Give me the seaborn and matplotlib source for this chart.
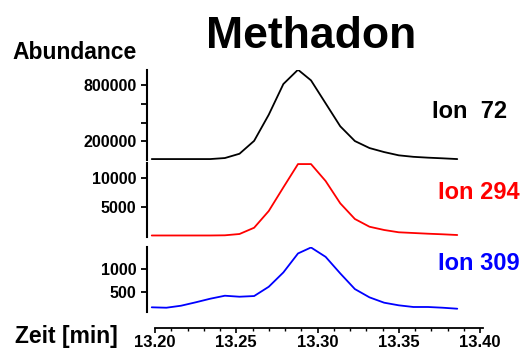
import matplotlib
matplotlib.use("Agg")
import matplotlib.pyplot as plt
from matplotlib.ticker import MultipleLocator, FixedLocator
import seaborn as sns
import pandas as pd

# ---- data ----
times = [13.198, 13.207, 13.216, 13.225, 13.234, 13.243, 13.252, 13.261,
         13.270, 13.279, 13.288, 13.296, 13.305, 13.314, 13.323, 13.332,
         13.341, 13.350, 13.359, 13.368, 13.377, 13.386]
ion72 = [10000, 10000, 10000, 10000, 10000, 21000, 67000, 205000,
         485000, 814000, 967000, 853000, 607000, 361000, 203000, 128000,
         85000, 50000, 34000, 25000, 18000, 10000]
ion294 = [240, 240, 240, 240, 240, 270, 490, 1550,
          4380, 8380, 12320, 12320, 9450, 5680, 3030, 1720,
          1170, 780, 660, 540, 440, 320]
ion309 = [154, 145, 189, 264, 344, 410, 388, 403,
          608, 925, 1344, 1476, 1269, 903, 557, 374,
          256, 198, 161, 161, 145, 123]

series_names = ["Ion  72", "Ion 294", "Ion 309"]
series_vals = [ion72, ion294, ion309]
series_colors = ["#000000", "#ff0000", "#0000ff"]
yticks = [[200000, 400000, 600000, 800000], [5000, 10000], [500, 1000]]
ytick_labels = [["200000", "", "", "800000"], ["5000", "10000"], ["500", "1000"]]
ylims = [(0, 964000), (0, 12450), (57, 1480)]
xticks = [13.20, 13.25, 13.30, 13.35, 13.40]
xtick_labels = ["13.20", "13.25", "13.30", "13.35", "13.40"]

sns.set_theme(style="white")
plt.rcParams["font.family"] = ["Liberation Sans", "DejaVu Sans"]
plt.rcParams["font.weight"] = "bold"
for k in ["text.color", "axes.labelcolor", "xtick.color", "ytick.color", "axes.edgecolor"]:
    plt.rcParams[k] = "black"

W, H = 525, 349
fig = plt.figure(figsize=(W / 100, H / 100), dpi=100)
fig.patch.set_facecolor("white")

# axes pixel boxes: (top, bottom)
boxes = [(70, 160), (163.3, 236.9), (247.3, 311.7)]
left_px, right_px = 147, 483
xlim = (13.2 - 8 / 1625, 13.2 + (right_px - 155) / 1625)

axes = []
for (top, bot), vals, col, yt, ytl, yl in zip(boxes, series_vals, series_colors,
                                              yticks, ytick_labels, ylims):
    ax = fig.add_axes([left_px / W, 1 - bot / H, (right_px - left_px) / W, (bot - top) / H])
    ax.set_facecolor("none")
    df = pd.DataFrame({"t": times, "v": vals})
    sns.lineplot(data=df, x="t", y="v", ax=ax, color=col, linewidth=1.3)
    ax.set_xlim(*xlim)
    ax.set_ylim(*yl)
    for s in ["top", "right", "bottom"]:
        ax.spines[s].set_visible(False)
    ax.spines["left"].set_color("black")
    ax.spines["left"].set_linewidth(1.5)
    ax.yaxis.set_major_locator(FixedLocator(yt))
    ax.set_yticklabels(ytl)
    ax.tick_params(axis="y", direction="out", length=4, width=1.3, colors="black",
                   pad=3.5, labelsize=11.5, left=True)
    for lab in ax.get_yticklabels():
        lab.set_fontweight("bold")
    ax.set_xlabel("")
    ax.set_ylabel("")
    ax.set_xticks([])
    axes.append(ax)

# bottom x axis on the last panel
axb = axes[-1]
axb.spines["bottom"].set_visible(True)
axb.spines["bottom"].set_color("black")
axb.spines["bottom"].set_linewidth(1.3)
axb.spines["bottom"].set_position(("outward", 11.5))
axb.spines["bottom"].set_bounds(13.2, 13.402)
axb.set_xticks(xticks)
axb.set_xticklabels(xtick_labels)
axb.xaxis.set_minor_locator(MultipleLocator(0.01))
axb.tick_params(axis="x", which="major", direction="out", length=3.5, width=1.2,
                colors="black", pad=1.5, labelsize=12, bottom=True)
axb.tick_params(axis="x", which="minor", direction="out", length=2.2, width=1.0,
                colors="black", bottom=True)
for lab in axb.get_xticklabels():
    lab.set_fontweight("bold")

# texts
fig.text(311.5 / W, 1 - 48 / H, "Methadon", fontsize=32, fontweight="bold",
         ha="center", va="baseline", color="black")
fig.text(12 / W, 1 - 59 / H, "Abundance", fontsize=16.5, fontweight="bold",
         ha="left", va="baseline", color="black")
fig.text(15 / W, 1 - 342.5 / H, "Zeit [min]", fontsize=16.5, fontweight="bold",
         ha="left", va="baseline", color="black")
label_y = [111.5, 192.5, 264]
label_right = [507, 520, 520]
for name, col, yc, xr in zip(series_names, series_colors, label_y, label_right):
    fig.text(xr / W, 1 - yc / H, name, fontsize=17, fontweight="bold", color=col,
             ha="right", va="center")

fig.savefig("out.png", dpi=100, facecolor="white")
